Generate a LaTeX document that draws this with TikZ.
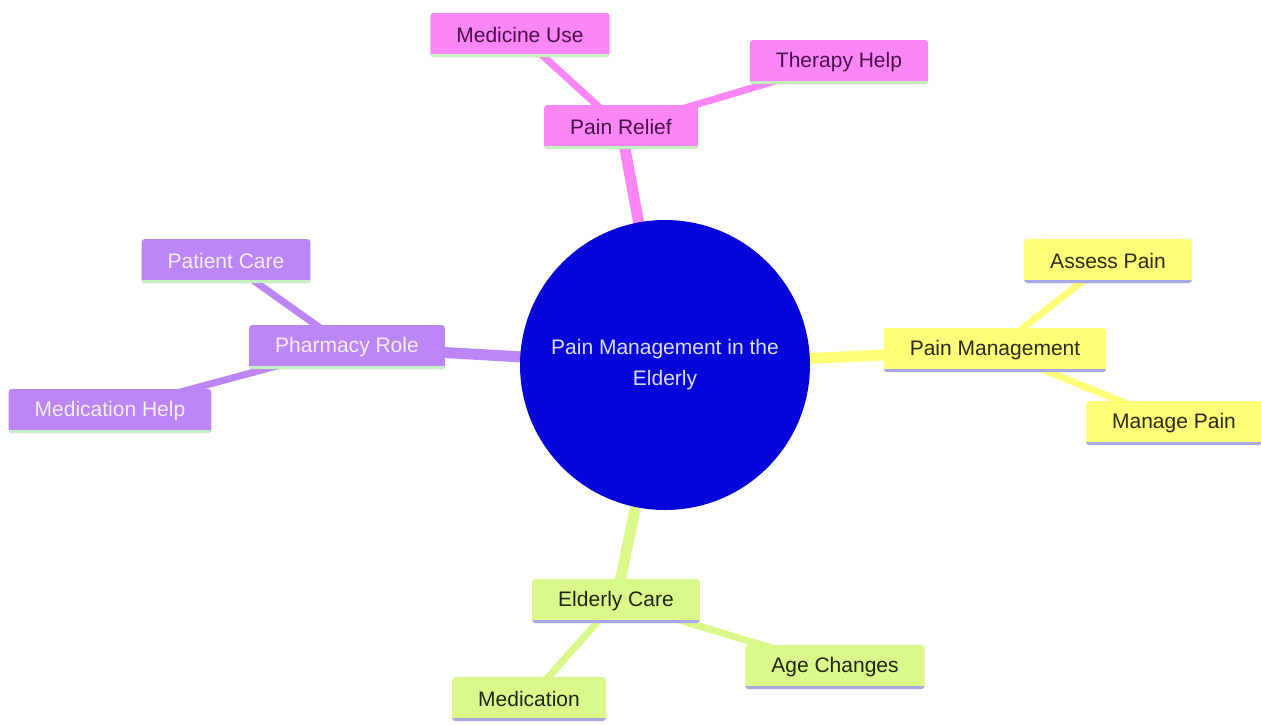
\documentclass[tikz,border=0pt]{standalone}
\usepackage{fontspec}
\setmainfont{Liberation Sans}
\usetikzlibrary{backgrounds}
\definecolor{rootblue}{HTML}{0606DA}
\definecolor{rootink}{HTML}{DCDCFF}
\definecolor{pinkfill}{HTML}{FB86F5}
\definecolor{pinkink}{HTML}{4A0F4A}
\definecolor{yellowfill}{HTML}{FFFF78}
\definecolor{yellowink}{HTML}{2B2B12}
\definecolor{limefill}{HTML}{DAF98A}
\definecolor{limeink}{HTML}{1C280C}
\definecolor{purplefill}{HTML}{BC86F7}
\definecolor{purpleink}{HTML}{F6EEFF}
\definecolor{greenrule}{HTML}{C4F2BE}
\definecolor{lavenderrule}{HTML}{A8A8E6}
\tikzset{
  underline/.style={path picture={\draw[#1,line width=3pt](path picture bounding box.south west)--(path picture bounding box.south east);}},
  box/.style={rounded corners=1.5pt, minimum height=22pt, inner xsep=13pt, font=\fontsize{10.5}{12.6}\selectfont},
  relief/.style={box, fill=pinkfill, text=pinkink, underline=greenrule},
  manage/.style={box, fill=yellowfill, text=yellowink, underline=lavenderrule},
  elderly/.style={box, fill=limefill, text=limeink, underline=lavenderrule},
  pharmacy/.style={box, fill=purplefill, text=purpleink, underline=greenrule},
  root/.style={circle, fill=rootblue, text=rootink, minimum size=145pt, inner sep=0pt, align=center, font=\fontsize{10.5}{15.5}\selectfont},
  trunk/.style={line width=5.5pt},
  twig/.style={line width=3.5pt}
}
\begin{document}
\begin{tikzpicture}[x=0.5pt,y=-0.5pt]
\useasboundingbox (0,0) rectangle (1261,724);
\node[root](root) at (665,365){Pain Management in the\\Elderly};
% pain relief branch
\node[relief](relief) at (621,127){Pain Relief};
\node[relief](medicine) at (520,35){Medicine Use};
\node[relief](therapy) at (839,62){Therapy Help};
% pain management branch
\node[manage](painman) at (995,350){Pain Management};
\node[manage](assess) at (1108,261){Assess Pain};
\node[manage](managepain) at (1174,423){Manage Pain};
% elderly care branch
\node[elderly](elderly) at (616,601){Elderly Care};
\node[elderly](agechg) at (835,667){Age Changes};
\node[elderly](medication) at (529,699){Medication};
% pharmacy branch
\node[pharmacy](pharmacy) at (347,347){Pharmacy Role};
\node[pharmacy](patient) at (226,261){Patient Care};
\node[pharmacy](medhelp) at (110,411){Medication Help};
\begin{scope}[on background layer]
\draw[trunk,pinkfill](root.center)--(relief.center);
\draw[twig,pinkfill](relief.center)--(medicine.center);
\draw[twig,pinkfill](relief.center)--(therapy.center);
\draw[trunk,yellowfill](root.center)--(painman.center);
\draw[twig,yellowfill](painman.center)--(assess.center);
\draw[twig,yellowfill](painman.center)--(managepain.center);
\draw[trunk,limefill](root.center)--(elderly.center);
\draw[twig,limefill](elderly.center)--(agechg.center);
\draw[twig,limefill](elderly.center)--(medication.center);
\draw[trunk,purplefill](root.center)--(pharmacy.center);
\draw[twig,purplefill](pharmacy.center)--(patient.center);
\draw[twig,purplefill](pharmacy.center)--(medhelp.center);
\end{scope}
\end{tikzpicture}
\end{document}
